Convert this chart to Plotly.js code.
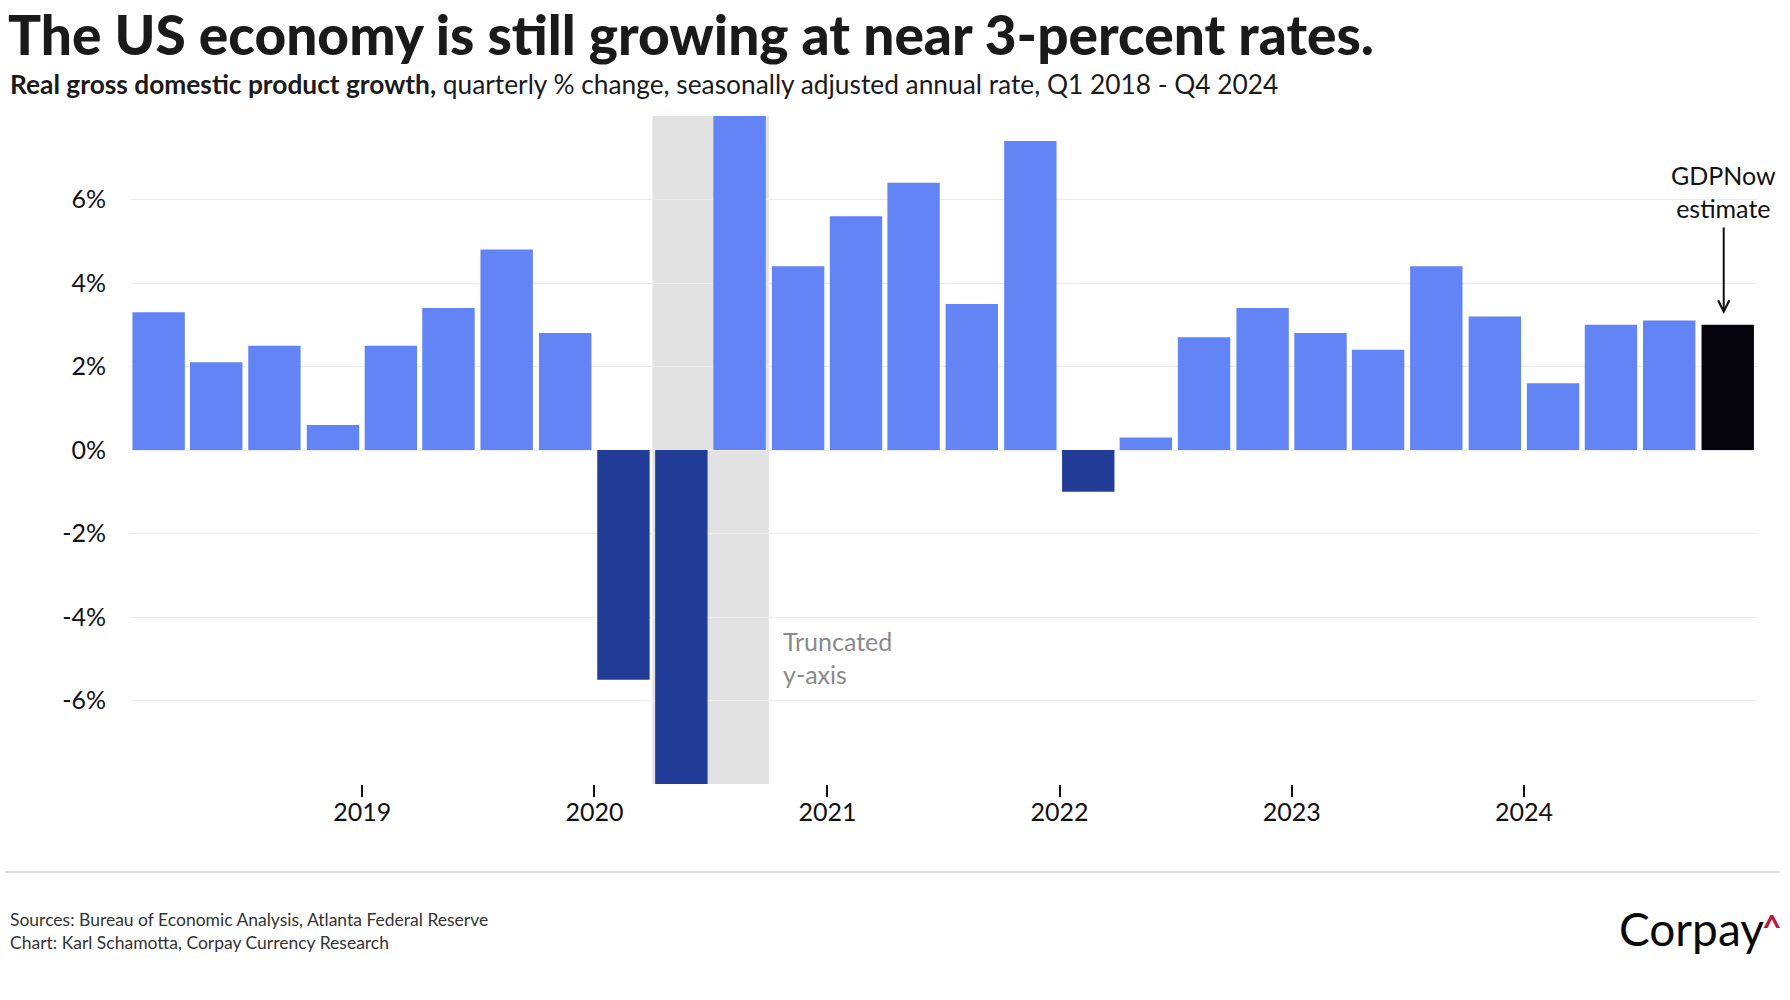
<!DOCTYPE html>
<html>
<head>
<meta charset="utf-8">
<script src="https://cdn.plot.ly/plotly-3.0.1.min.js"></script>
<style>html,body{margin:0;padding:0;background:#fff;}#chart{width:1790px;height:1000px;}</style>
</head>
<body>
<div id="chart"></div>
<script>
// ---- data ----
const quarters = ['2018 Q1','2018 Q2','2018 Q3','2018 Q4',
                  '2019 Q1','2019 Q2','2019 Q3','2019 Q4',
                  '2020 Q1','2020 Q2','2020 Q3','2020 Q4',
                  '2021 Q1','2021 Q2','2021 Q3','2021 Q4',
                  '2022 Q1','2022 Q2','2022 Q3','2022 Q4',
                  '2023 Q1','2023 Q2','2023 Q3','2023 Q4',
                  '2024 Q1','2024 Q2','2024 Q3','2024 Q4'];
const gdpGrowth = [3.3, 2.1, 2.5, 0.6,
                   2.5, 3.4, 4.8, 2.8,
                   -5.5, -28.0, 34.8, 4.4,
                   5.6, 6.4, 3.5, 7.4,
                   -1.0, 0.3, 2.7, 3.4,
                   2.8, 2.4, 4.4, 3.2,
                   1.6, 3.0, 3.1, 3.0];
const estimateQuarter = '2024 Q4';           // GDPNow estimate
const truncatedQuarters = ['2020 Q2','2020 Q3'];
const yearTicks = ['2019','2020','2021','2022','2023','2024'];
const yTicks = [-6, -4, -2, 0, 2, 4, 6];

// ---- helpers ----
function qStart(label){
  const [y, q] = label.split(' Q');
  const m = (parseInt(q,10)-1)*3 + 1;
  return y + '-' + String(m).padStart(2,'0') + '-01';
}
function qEnd(label){
  const [y, q] = label.split(' Q');
  let m = parseInt(q,10)*3 + 1, yy = parseInt(y,10);
  if (m > 12){ m = 1; yy += 1; }
  return yy + '-' + String(m).padStart(2,'0') + '-01';
}

const C_POS = '#6384F5', C_NEG = '#233C97', C_EST = '#06050D';
const xDates = quarters.map(qStart);
const colors = quarters.map((q,i) => q === estimateQuarter ? C_EST : (gdpGrowth[i] < 0 ? C_NEG : C_POS));
const FONT = 'Lato, "Open Sans", sans-serif';

const trace = {
  type: 'bar',
  x: xDates,
  y: gdpGrowth,
  xperiod: 'M3',
  xperiodalignment: 'middle',
  marker: {color: colors, line: {width: 0}},
  hoverinfo: 'x+y',
  showlegend: false
};

const estIdx = quarters.indexOf(estimateQuarter);
const estMid = (function(){
  const a = new Date(qStart(estimateQuarter)).getTime(), b = new Date(qEnd(estimateQuarter)).getTime();
  return new Date((a+b)/2).toISOString().slice(0,10);
})();

const layout = {
  width: 1790, height: 1000,
  margin: {l: 130, r: 33, t: 116, b: 216},
  paper_bgcolor: '#ffffff',
  plot_bgcolor: '#ffffff',
  bargap: 0.09,
  font: {family: FONT, color: '#111111'},
  title: {
    text: 'The US economy is still growing at near 3-percent rates.',
    font: {family: FONT, size: 55, weight: 900, color: '#1a1a1a'},
    x: 8/1790, xanchor: 'left', xref: 'container',
    y: 1 - 36/1000, yanchor: 'middle', yref: 'container'
  },
  xaxis: {
    type: 'date',
    range: [qStart(quarters[0]), qEnd(quarters[quarters.length-1])],
    tickvals: yearTicks.map(y => y + '-01-01'),
    ticktext: yearTicks,
    ticks: 'outside', ticklen: 12, tickwidth: 2, tickcolor: '#111111',
    ticklabelstandoff: -6,
    tickfont: {family: FONT, size: 25, color: '#111111'},
    showgrid: false, zeroline: false, showline: false,
    fixedrange: true
  },
  yaxis: {
    range: [-8, 8],
    tickvals: yTicks,
    ticktext: yTicks.map(v => v + '%'),
    ticks: '',
    ticklabelstandoff: 23,
    tickfont: {family: FONT, size: 25, color: '#111111'},
    showgrid: true, gridcolor: '#ececec', gridwidth: 1,
    zeroline: false, showline: false,
    fixedrange: true
  },
  shapes: [
    {type: 'rect', layer: 'below', xref: 'x', yref: 'paper',
     x0: qStart(truncatedQuarters[0]), x1: qEnd(truncatedQuarters[truncatedQuarters.length-1]),
     y0: 0, y1: 1, fillcolor: '#E2E2E2', line: {width: 0}},
    {type: 'line', xref: 'paper', yref: 'paper',
     x0: (5-130)/1627, x1: (1780-130)/1627,
     y0: (784-872)/668, y1: (784-872)/668,
     line: {color: '#dddddd', width: 2}}
  ],
  annotations: [
    {text: '<b>Real gross domestic product growth,</b> quarterly % change, seasonally adjusted annual rate, Q1 2018 - Q4 2024',
     xref: 'paper', yref: 'paper', x: (8-130)/1627, y: (784-84)/668,
     xanchor: 'left', yanchor: 'middle', showarrow: false,
     font: {family: FONT, size: 26.3, color: '#1a1a1a'}},
    {text: 'Truncated<br>y-axis',
     xref: 'x', yref: 'y', x: qEnd(truncatedQuarters[truncatedQuarters.length-1]), y: -4.97,
     xanchor: 'left', yanchor: 'middle', xshift: 12, align: 'left', showarrow: false,
     font: {family: FONT, size: 25, color: '#8a8a8a'}},
    {text: 'GDPNow<br>estimate',
     xref: 'x', yref: 'y', x: estMid, y: 6.18, xshift: -4,
     xanchor: 'center', yanchor: 'middle', align: 'center', showarrow: false,
     font: {family: FONT, size: 25, color: '#111111'}},
    {text: '', xref: 'x', yref: 'y', x: estMid, y: gdpGrowth[estIdx] + 0.26, xshift: -4,
     showarrow: true, ax: 0, ay: -88, arrowhead: 5, arrowsize: 1.1, arrowwidth: 2, arrowcolor: '#111111'},
    {text: 'Sources: Bureau of Economic Analysis, Atlanta Federal Reserve<br>Chart: Karl Schamotta, Corpay Currency Research',
     xref: 'paper', yref: 'paper', x: (8-130)/1627, y: (784-931)/668,
     xanchor: 'left', yanchor: 'middle', align: 'left', showarrow: false,
     font: {family: FONT, size: 17.5, color: '#333333'}},
    {text: 'Corpay',
     xref: 'paper', yref: 'paper', x: (1766-130)/1627, y: (784-929)/668,
     xanchor: 'right', yanchor: 'middle', showarrow: false,
     font: {family: FONT, size: 46, color: '#0a0a0a'}},
    {text: '<b>^</b>',
     xref: 'paper', yref: 'paper', x: (1772-130)/1627, y: (784-926)/668,
     xanchor: 'center', yanchor: 'middle', showarrow: false,
     font: {family: FONT, size: 34, weight: 900, color: '#B8173E'}}
  ]
};

Plotly.newPlot('chart', [trace], layout, {displayModeBar: false});
</script>
</body>
</html>
